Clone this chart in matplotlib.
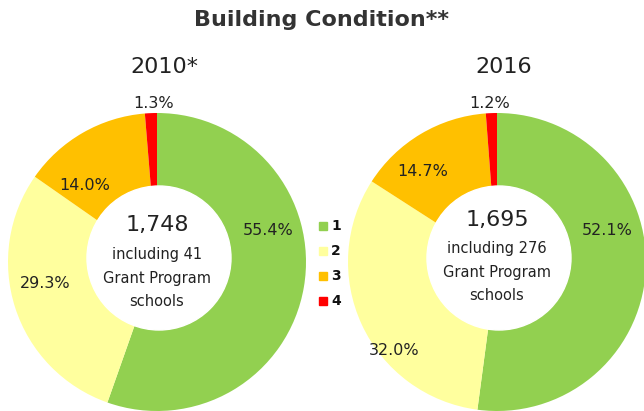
import matplotlib.pyplot as plt
from matplotlib.patches import Rectangle, Circle

# data
years = ["2010*", "2016"]
shares_2010 = [55.4, 29.3, 14.0, 1.3]
shares_2016 = [52.1, 32.0, 14.7, 1.2]
totals = ["1,748", "1,695"]
notes = ["including 41\nGrant Program\nschools", "including 276\nGrant Program\nschools"]
conditions = ["1", "2", "3", "4"]
colors = ["#92d050", "#ffff9e", "#ffc000", "#ff0000"]

W, H = 644, 411
fig = plt.figure(figsize=(W / 100, H / 100), dpi=100)
ax = fig.add_axes([0, 0, 1, 1])

txt = "#222222"
centers = [(157, H - 262), (497, H - 262)]
radius = 149
hole = 72
# label offsets (dx, dy) from donut centre, in pixels
label_offsets = [
    [(111, 32), (-112, -21), (-72, 77), (-3, 159)],
    [(110, 32), (-103, -88), (-74, 91), (-7, 159)],
]
# vertical offsets of the centre texts (total, note block)
centre_offsets = [(37, -16), (42, -10)]

for i, shares in enumerate([shares_2010, shares_2016]):
    cx, cy = centers[i]
    ax.pie(shares, colors=colors, startangle=90, counterclock=False,
           center=(cx, cy), radius=radius,
           wedgeprops=dict(linewidth=0))
    # white centre, sitting a little above the ring centre
    ax.add_patch(Circle((cx + 2, cy + 4), hole, color="white", zorder=3))
    for v, (dx, dy) in zip(shares, label_offsets[i]):
        ax.text(cx + dx, cy + dy, f"{v:.1f}%", ha="center", va="center",
                fontsize=11.5, color=txt, zorder=4)
    t_off, n_off = centre_offsets[i]
    ax.text(cx, cy + t_off, totals[i], ha="center", va="center", fontsize=16,
            color=txt, zorder=4)
    ax.text(cx, cy + n_off, notes[i], ha="center", va="center", fontsize=10.5,
            color=txt, linespacing=1.7, zorder=4)
    ax.text(cx + 7, H - 67, years[i], ha="center", va="center", fontsize=16, color=txt)

ax.set_xlim(0, W)
ax.set_ylim(0, H)
ax.set_aspect("auto")
ax.axis("off")

ax.text(W / 2, H - 20, "Building Condition**", ha="center", va="center",
        fontsize=16, fontweight="heavy", color="#333333")

# legend
for k, (lab, col) in enumerate(zip(conditions, colors)):
    y = H - (226 + k * 25)
    ax.add_patch(Rectangle((319, y - 4), 8, 8, color=col))
    ax.text(331, y, lab, ha="left", va="center", fontsize=10, fontweight="bold", color="#111111")

fig.savefig("out.png", dpi=100)
